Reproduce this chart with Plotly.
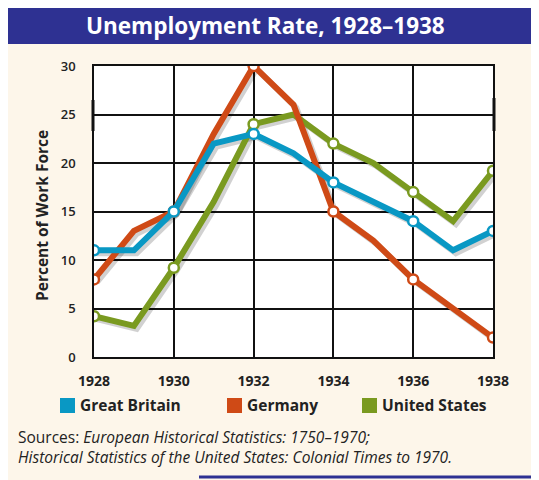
import plotly.graph_objects as go

years = [1928, 1929, 1930, 1931, 1932, 1933, 1934, 1935, 1936, 1937, 1938]
great_britain = [11, 11, 15, 22, 23, 21, 18, 16, 14, 11, 13]
germany = [8, 13, 15, 23, 30, 26, 15, 12, 8, 5, 2]
united_states = [4.2, 3.2, 9.2, 16, 24, 25, 22, 20, 17, 14, 19.2]

series_names = ["Great Britain", "Germany", "United States"]
series_colors = ["#0998c4", "#cf4a16", "#7a9a20"]

title_text = "Unemployment Rate, 1928\u20131938"
y_title = "Percent of Work Force"
source_lines = [
    "Sources: <i>European Historical Statistics: 1750\u20131970;</i>",
    "<i>Historical Statistics of the United States: Colonial Times to 1970.</i>",
]

# the page body adds an 8px margin, so the figure is drawn 8px smaller and
# every position below is given in window pixels and shifted back by OFF
OFF = 8
W, H = 539 - OFF, 480 - OFF
L, R, T, B = 94 - OFF, 493 - OFF, 66 - OFF, 357 - OFF   # plot area
FONT = "Open Sans"
CREAM = "#fdf6ea"
NAVY = "#2e3192"


def px(x):
    return (x - OFF - L) / (R - L)


def py(y):
    return 1 - (y - OFF - T) / (B - T)


fig = go.Figure()

data = dict(zip(series_names, [great_britain, germany, united_states]))
order = ["United States", "Germany", "Great Britain"]
colors = dict(zip(series_names, series_colors))

# soft drop shadows under the lines
for name in order:
    vals = data[name]
    fig.add_trace(go.Scatter(
        x=[v + 0.07 for v in years], y=[v - 0.3 for v in vals],
        mode="lines", line=dict(color="rgba(0,0,0,0.18)", width=6),
        hoverinfo="skip", showlegend=False,
    ))

for name in order:
    vals = data[name]
    fig.add_trace(go.Scatter(
        x=years, y=vals, mode="lines", name=name,
        line=dict(color=colors[name], width=6),
        showlegend=False,
    ))
    fig.add_trace(go.Scatter(
        x=years[::2], y=vals[::2], mode="markers",
        marker=dict(size=10, color="white", line=dict(color=colors[name], width=2.5)),
        hoverinfo="skip", showlegend=False,
    ))

shapes = [
    # title bar
    dict(type="rect", xref="paper", yref="paper", x0=px(0), x1=px(539), y0=py(44), y1=py(0),
         fillcolor=NAVY, line=dict(width=0), layer="below"),
    # page borders
    dict(type="line", xref="paper", yref="paper", x0=px(536), x1=px(536), y0=py(477), y1=py(43),
         line=dict(color=NAVY, width=2)),
    dict(type="line", xref="paper", yref="paper", x0=px(199), x1=px(536), y0=py(477), y1=py(477),
         line=dict(color=NAVY, width=3)),
    # small heavy marks at 25 on both frame edges
    dict(type="line", xref="paper", yref="y", x0=px(93), x1=px(93), y0=23.3, y1=26.5,
         line=dict(color="#111", width=3)),
    dict(type="line", xref="paper", yref="y", x0=px(494), x1=px(494), y0=23.3, y1=26.7,
         line=dict(color="#111", width=3)),
]

annotations = [
    dict(text="<b>" + title_text + "</b>", xref="paper", yref="paper", x=px(265), y=py(25),
         showarrow=False, font=dict(family=FONT, size=22.5, color="white"),
         xanchor="center", yanchor="middle"),
    dict(text="<b>" + y_title + "</b>", xref="paper", yref="paper", x=px(42), y=py(216),
         textangle=-90, showarrow=False, font=dict(family=FONT, size=15.5, color="#222"),
         xanchor="center", yanchor="middle"),
]

legend_x = [60, 227, 362]
for name, lx in zip(series_names, legend_x):
    shapes.append(dict(type="rect", xref="paper", yref="paper",
                       x0=px(lx), x1=px(lx + 15), y0=py(413), y1=py(398),
                       fillcolor=colors[name], line=dict(width=0)))
    annotations.append(dict(text="<b>" + name + "</b>", xref="paper", yref="paper",
                            x=px(lx + 18), y=py(405), showarrow=False,
                            xanchor="left", yanchor="middle",
                            font=dict(family=FONT, size=15.5, color="#222")))

for i, line in enumerate(source_lines):
    annotations.append(dict(text=line, xref="paper", yref="paper",
                            x=px(16), y=py(437 + 20 * i), showarrow=False,
                            xanchor="left", yanchor="middle",
                            font=dict(family=FONT, size=15.5, color="#222")))

fig.update_layout(
    width=W, height=H,
    margin=dict(l=L, r=W - R, t=T, b=H - B),
    paper_bgcolor=CREAM, plot_bgcolor="white",
    font=dict(family=FONT, color="#222"),
    shapes=shapes, annotations=annotations,
    showlegend=False,
)
fig.update_xaxes(
    range=[1928, 1938], dtick=2, tick0=1928,
    showgrid=True, gridcolor="#111", gridwidth=1.5,
    showline=True, linecolor="#111", linewidth=1.5, mirror=True,
    ticks="", ticklabelstandoff=10,
    tickfont=dict(family=FONT, size=14, color="#222", weight="bold"),
    zeroline=False,
)
fig.update_yaxes(
    range=[0, 30], dtick=5,
    showgrid=True, gridcolor="#111", gridwidth=1.5,
    showline=True, linecolor="#111", linewidth=1.5, mirror=True,
    ticks="", ticklabelstandoff=14,
    tickfont=dict(family=FONT, size=13, color="#222", weight=600),
    zeroline=False,
)

fig.write_html("out.html")
